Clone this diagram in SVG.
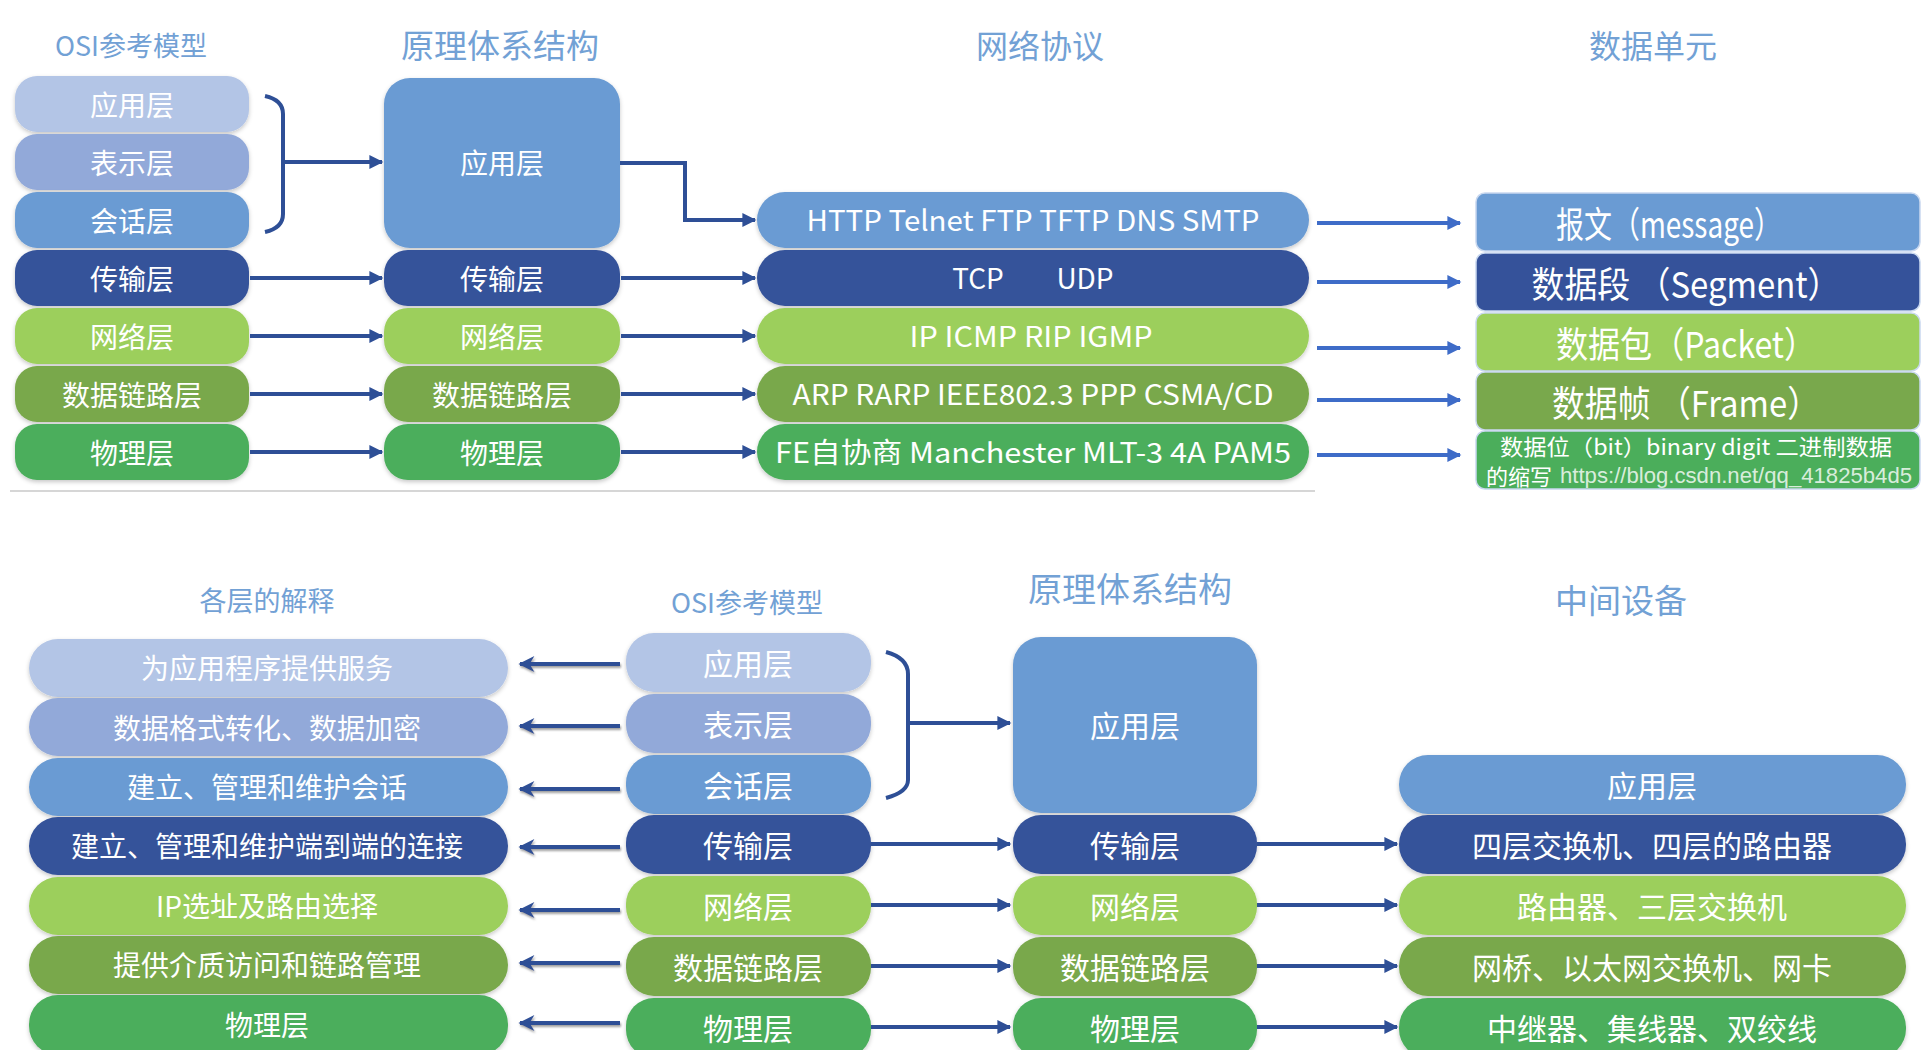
<svg xmlns="http://www.w3.org/2000/svg" width="1924" height="1050" viewBox="0 0 1924 1050">
<defs>
<filter id="sh" x="-10%" y="-20%" width="120%" height="150%">
<feDropShadow dx="0" dy="2" stdDeviation="2" flood-color="#000" flood-opacity="0.22"/>
</filter>
<filter id="ash" filterUnits="userSpaceOnUse" x="0" y="0" width="1924" height="1050">
<feDropShadow dx="1" dy="2" stdDeviation="1.2" flood-color="#777" flood-opacity="0.7"/>
</filter>
<marker id="ah" viewBox="0 0 10 10" refX="9" refY="5" markerWidth="16" markerHeight="14" markerUnits="userSpaceOnUse" orient="auto">
<path d="M0,0 L10,5 L0,10 z" fill="#2e4f96"/>
</marker>
<marker id="ahb" viewBox="0 0 10 10" refX="9" refY="5" markerWidth="16" markerHeight="14" markerUnits="userSpaceOnUse" orient="auto">
<path d="M0,0 L10,5 L0,10 z" fill="#3e6cc8"/>
</marker>
<marker id="ahl" viewBox="0 0 10 10" refX="9" refY="5" markerWidth="22" markerHeight="16" markerUnits="userSpaceOnUse" orient="auto">
<path d="M0,0 L10,5 L0,10 L3,5 z" fill="#2e4f96"/>
</marker>
</defs>
<style>
text{font-family:"Noto Sans CJK SC","Noto Sans",sans-serif;text-anchor:middle;dominant-baseline:central}
.t{fill:#ffffff;font-size:28px}
.tb{fill:#ffffff;font-size:30px}
.h{fill:#72a1d5}
.box{filter:url(#sh)}
.c1{fill:#b3c5e6}.c2{fill:#92a9d9}.c3{fill:#6a9bd3}.c4{fill:#35529a}.c5{fill:#9ccf5c}.c6{fill:#79a84c}.c7{fill:#4bae5b}
.a{stroke:#2e4f96;stroke-width:4;fill:none;marker-end:url(#ah)}
.ab{stroke:#3e6cc8;stroke-width:4;fill:none;marker-end:url(#ahb)}
.al{stroke:#2e4f96;stroke-width:4;fill:none;marker-end:url(#ahl)}
.br{stroke:#2e4f96;stroke-width:4;fill:none}
</style>
<rect width="1924" height="1050" fill="#ffffff"/>

<!-- ===== Top section titles ===== -->
<g id="titles-top">
<text class="h" x="131" y="44" style="font-size:27px">OSI参考模型</text>
<text class="h" x="500" y="44" style="font-size:33px">原理体系结构</text>
<text class="h" x="1040" y="44" style="font-size:32px">网络协议</text>
<text class="h" x="1653" y="44" style="font-size:32px">数据单元</text>
</g>

<!-- OSI column (top) -->
<g id="osi-top-app"><rect class="box c1" x="15" y="76" width="234" height="56" rx="22"/><text class="t" x="132" y="104">应用层</text></g>
<g id="osi-top-pres"><rect class="box c2" x="15" y="134" width="234" height="56" rx="22"/><text class="t" x="132" y="162">表示层</text></g>
<g id="osi-top-sess"><rect class="box c3" x="15" y="192" width="234" height="56" rx="22"/><text class="t" x="132" y="220">会话层</text></g>
<g id="osi-top-trans"><rect class="box c4" x="15" y="250" width="234" height="56" rx="22"/><text class="t" x="132" y="278">传输层</text></g>
<g id="osi-top-net"><rect class="box c5" x="15" y="308" width="234" height="56" rx="22"/><text class="t" x="132" y="336">网络层</text></g>
<g id="osi-top-link"><rect class="box c6" x="15" y="366" width="234" height="56" rx="22"/><text class="t" x="132" y="394">数据链路层</text></g>
<g id="osi-top-phys"><rect class="box c7" x="15" y="424" width="234" height="56" rx="22"/><text class="t" x="132" y="452">物理层</text></g>

<!-- Principle column (top) -->
<g id="pr-top-app"><rect class="box c3" x="384" y="78" width="236" height="170" rx="26"/><text class="t" x="502" y="162">应用层</text></g>
<g id="pr-top-trans"><rect class="box c4" x="384" y="250" width="236" height="56" rx="24"/><text class="t" x="502" y="278">传输层</text></g>
<g id="pr-top-net"><rect class="box c5" x="384" y="308" width="236" height="56" rx="24"/><text class="t" x="502" y="336">网络层</text></g>
<g id="pr-top-link"><rect class="box c6" x="384" y="366" width="236" height="56" rx="24"/><text class="t" x="502" y="394">数据链路层</text></g>
<g id="pr-top-phys"><rect class="box c7" x="384" y="424" width="236" height="56" rx="24"/><text class="t" x="502" y="452">物理层</text></g>

<!-- Protocol column -->
<g id="proto-app"><rect class="box c3" x="757" y="192" width="552" height="56" rx="28"/><text class="t" x="1033" y="219" textLength="453" lengthAdjust="spacingAndGlyphs">HTTP Telnet FTP TFTP DNS SMTP</text></g>
<g id="proto-trans"><rect class="box c4" x="757" y="250" width="552" height="56" rx="28"/><text class="t" x="978" y="277">TCP</text><text class="t" x="1085" y="277">UDP</text></g>
<g id="proto-net"><rect class="box c5" x="757" y="308" width="552" height="56" rx="28"/><text class="t" x="1031" y="335" textLength="243" lengthAdjust="spacingAndGlyphs">IP ICMP RIP IGMP</text></g>
<g id="proto-link"><rect class="box c6" x="757" y="366" width="552" height="56" rx="28"/><text class="t" x="1033" y="393" textLength="481" lengthAdjust="spacingAndGlyphs">ARP RARP IEEE802.3 PPP CSMA/CD</text></g>
<g id="proto-phys"><rect class="box c7" x="757" y="424" width="552" height="56" rx="28"/><text class="t" x="1033" y="451" textLength="516" lengthAdjust="spacingAndGlyphs">FE自协商 Manchester MLT-3 4A PAM5</text></g>

<!-- Data unit column -->
<g id="du-msg"><rect class="c3" x="1476" y="193" width="444" height="58" rx="9" stroke="#c9d8ef" stroke-width="1.5"/><text class="t" x="1669" y="222" style="font-size:36px" textLength="226" lengthAdjust="spacingAndGlyphs">报文（message）</text></g>
<g id="du-seg"><rect class="c4" x="1476" y="253" width="444" height="58" rx="9" stroke="#c9d8ef" stroke-width="1.5"/><text class="t" x="1686" y="282" style="font-size:36px" textLength="309" lengthAdjust="spacingAndGlyphs">数据段 （Segment）</text></g>
<g id="du-pkt"><rect class="c5" x="1476" y="313" width="444" height="58" rx="9" stroke="#c9d8ef" stroke-width="1.5"/><text class="t" x="1686" y="342" style="font-size:36px" textLength="260" lengthAdjust="spacingAndGlyphs">数据包（Packet）</text></g>
<g id="du-frame"><rect class="c6" x="1476" y="372" width="444" height="58" rx="9" stroke="#c9d8ef" stroke-width="1.5"/><text class="t" x="1686" y="401" style="font-size:36px" textLength="268" lengthAdjust="spacingAndGlyphs">数据帧 （Frame）</text></g>
<g id="du-bit"><rect class="c7" x="1476" y="431" width="444" height="58" rx="9" stroke="#c9d8ef" stroke-width="1.5"/><text class="t" x="1696" y="445" style="font-size:22px" textLength="392" lengthAdjust="spacingAndGlyphs">数据位（bit）binary digit 二进制数据</text><text x="1486" y="475" style="font-size:22px;fill:#ffffff;text-anchor:start">的缩写</text><text x="1560" y="475" style="font-size:22px;fill:#ffffff;fill-opacity:0.8;font-family:'Liberation Sans',sans-serif;text-anchor:start" textLength="352" lengthAdjust="spacingAndGlyphs">https://blog.csdn.net/qq_41825b4d5</text></g>

<line x1="10" y1="491" x2="1315" y2="491" stroke="#d6d6d6" stroke-width="2"/>

<!-- ===== Bottom section titles ===== -->
<g id="titles-bottom">
<text class="h" x="267" y="599" style="font-size:27px">各层的解释</text>
<text class="h" x="747" y="601" style="font-size:27px">OSI参考模型</text>
<text class="h" x="1130" y="587" style="font-size:34px">原理体系结构</text>
<text class="h" x="1621" y="599" style="font-size:33px">中间设备</text>
</g>

<!-- Explanation column -->
<g id="ex-app"><rect class="box c1" x="29" y="639" width="479" height="58" rx="29"/><text class="t" x="267" y="667">为应用程序提供服务</text></g>
<g id="ex-pres"><rect class="box c2" x="29" y="698" width="479" height="58" rx="29"/><text class="t" x="267" y="727">数据格式转化、数据加密</text></g>
<g id="ex-sess"><rect class="box c3" x="29" y="758" width="479" height="58" rx="29"/><text class="t" x="267" y="786">建立、管理和维护会话</text></g>
<g id="ex-trans"><rect class="box c4" x="29" y="817" width="479" height="58" rx="29"/><text class="t" x="267" y="845">建立、管理和维护端到端的连接</text></g>
<g id="ex-net"><rect class="box c5" x="29" y="877" width="479" height="58" rx="29"/><text class="t" x="267" y="905">IP选址及路由选择</text></g>
<g id="ex-link"><rect class="box c6" x="29" y="936" width="479" height="58" rx="29"/><text class="t" x="267" y="964">提供介质访问和链路管理</text></g>
<g id="ex-phys"><rect class="box c7" x="29" y="995" width="479" height="60" rx="29"/><text class="t" x="267" y="1024">物理层</text></g>

<!-- OSI column (bottom) -->
<g id="osi-bot-app"><rect class="box c1" x="626" y="633" width="245" height="59" rx="28"/><text class="tb" x="748" y="662">应用层</text></g>
<g id="osi-bot-pres"><rect class="box c2" x="626" y="694" width="245" height="59" rx="28"/><text class="tb" x="748" y="723">表示层</text></g>
<g id="osi-bot-sess"><rect class="box c3" x="626" y="755" width="245" height="59" rx="28"/><text class="tb" x="748" y="784">会话层</text></g>
<g id="osi-bot-trans"><rect class="box c4" x="626" y="815" width="245" height="59" rx="28"/><text class="tb" x="748" y="844">传输层</text></g>
<g id="osi-bot-net"><rect class="box c5" x="626" y="876" width="245" height="59" rx="28"/><text class="tb" x="748" y="905">网络层</text></g>
<g id="osi-bot-link"><rect class="box c6" x="626" y="937" width="245" height="59" rx="28"/><text class="tb" x="748" y="966">数据链路层</text></g>
<g id="osi-bot-phys"><rect class="box c7" x="626" y="998" width="245" height="60" rx="28"/><text class="tb" x="748" y="1027">物理层</text></g>

<!-- Principle column (bottom) -->
<g id="pr-bot-app"><rect class="box c3" x="1013" y="637" width="244" height="176" rx="28"/><text class="tb" x="1135" y="724">应用层</text></g>
<g id="pr-bot-trans"><rect class="box c4" x="1013" y="815" width="244" height="59" rx="28"/><text class="tb" x="1135" y="844">传输层</text></g>
<g id="pr-bot-net"><rect class="box c5" x="1013" y="876" width="244" height="59" rx="28"/><text class="tb" x="1135" y="905">网络层</text></g>
<g id="pr-bot-link"><rect class="box c6" x="1013" y="937" width="244" height="59" rx="28"/><text class="tb" x="1135" y="966">数据链路层</text></g>
<g id="pr-bot-phys"><rect class="box c7" x="1013" y="998" width="244" height="60" rx="28"/><text class="tb" x="1135" y="1027">物理层</text></g>

<!-- Intermediate devices column -->
<g id="dev-app"><rect class="box c3" x="1399" y="755" width="507" height="59" rx="29"/><text class="tb" x="1652" y="784">应用层</text></g>
<g id="dev-trans"><rect class="box c4" x="1399" y="815" width="507" height="59" rx="29"/><text class="tb" x="1652" y="844">四层交换机、四层的路由器</text></g>
<g id="dev-net"><rect class="box c5" x="1399" y="876" width="507" height="59" rx="29"/><text class="tb" x="1652" y="905">路由器、三层交换机</text></g>
<g id="dev-link"><rect class="box c6" x="1399" y="937" width="507" height="59" rx="29"/><text class="tb" x="1652" y="966">网桥、以太网交换机、网卡</text></g>
<g id="dev-phys"><rect class="box c7" x="1399" y="998" width="507" height="60" rx="29"/><text class="tb" x="1652" y="1027">中继器、集线器、双绞线</text></g>

<!-- ===== Connectors ===== -->
<g id="connectors">
<!-- top -->
<path class="br" d="M265,96 Q283,100 283,114 L283,214 Q283,228 265,232"/>
<line class="a" x1="283" y1="162" x2="382" y2="162"/>
<line class="a" x1="250" y1="278" x2="382" y2="278"/>
<line class="a" x1="250" y1="336" x2="382" y2="336"/>
<line class="a" x1="250" y1="394" x2="382" y2="394"/>
<line class="a" x1="250" y1="452" x2="382" y2="452"/>
<path class="a" d="M620,163 L685,163 L685,220 L755,220"/>
<line class="a" x1="621" y1="278" x2="755" y2="278"/>
<line class="a" x1="621" y1="336" x2="755" y2="336"/>
<line class="a" x1="621" y1="394" x2="755" y2="394"/>
<line class="a" x1="621" y1="452" x2="755" y2="452"/>
<line class="ab" x1="1317" y1="223" x2="1460" y2="223"/>
<line class="ab" x1="1317" y1="282" x2="1460" y2="282"/>
<line class="ab" x1="1317" y1="348" x2="1460" y2="348"/>
<line class="ab" x1="1317" y1="400" x2="1460" y2="400"/>
<line class="ab" x1="1317" y1="455" x2="1460" y2="455"/>
<!-- bottom: OSI to explanation (leftward) -->
<g filter="url(#ash)">
<line class="al" x1="620" y1="664" x2="520" y2="664"/>
<line class="al" x1="620" y1="726" x2="520" y2="726"/>
<line class="al" x1="620" y1="789" x2="520" y2="789"/>
<line class="al" x1="620" y1="847" x2="520" y2="847"/>
<line class="al" x1="620" y1="910" x2="520" y2="910"/>
<line class="al" x1="620" y1="963" x2="520" y2="963"/>
<line class="al" x1="620" y1="1023" x2="520" y2="1023"/>
</g>
<!-- bottom: bracket and rightward -->
<path class="br" d="M886,652 Q908,658 908,674 L908,780 Q908,792 886,798"/>
<line class="a" x1="908" y1="723" x2="1010" y2="723"/>
<line class="a" x1="871" y1="844" x2="1010" y2="844"/>
<line class="a" x1="871" y1="905" x2="1010" y2="905"/>
<line class="a" x1="871" y1="966" x2="1010" y2="966"/>
<line class="a" x1="871" y1="1027" x2="1010" y2="1027"/>
<line class="a" x1="1257" y1="844" x2="1397" y2="844"/>
<line class="a" x1="1257" y1="905" x2="1397" y2="905"/>
<line class="a" x1="1257" y1="966" x2="1397" y2="966"/>
<line class="a" x1="1257" y1="1027" x2="1397" y2="1027"/>
</g>
</svg>
